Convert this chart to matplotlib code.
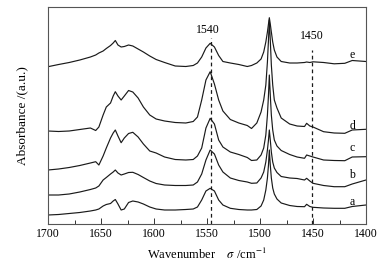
import matplotlib
matplotlib.use("Agg")
import matplotlib.pyplot as plt
import numpy as np

# ---------------- data ----------------
wavenumber = [1700, 1690, 1680, 1670, 1660, 1655, 1652, 1648, 1645, 1641,
              1638.5, 1636.5, 1634, 1631, 1628, 1624, 1620, 1615, 1610, 1604,
              1598, 1590, 1580, 1570, 1563, 1559, 1555, 1551, 1547, 1543,
              1539, 1535, 1528, 1520, 1512, 1508, 1503, 1499, 1496.5, 1494.5,
              1493, 1492, 1491.2, 1490.3, 1489.3, 1488, 1486.5, 1484, 1480, 1472,
              1465, 1458, 1456, 1453, 1450, 1440, 1430, 1420, 1413, 1400]

# absorbance (arbitrary units, curves already vertically offset as in the figure)
spec_e = [157.3, 159.5, 161.5, 164, 167, 169, 171, 173, 175.5, 178.5,
          181, 183.5, 179, 177, 177.5, 179, 178, 175, 172, 168,
          164.5, 161.5, 158, 157.5, 158.5, 161, 167, 176, 180.7, 177,
          168.5, 162.5, 161, 159.5, 157.5, 158.5, 161, 165, 172, 182,
          192, 200, 206.3, 200, 192, 182, 174, 167, 162.5, 161,
          161, 161.5, 162, 161.5, 162.2, 161.5, 160.2, 160.7, 163.5, 162.5]

spec_d = [93, 92.5, 93, 94.5, 96, 93.5, 97, 109, 117, 121,
          128, 132.3, 128, 124, 128, 133.5, 132, 126, 117, 109,
          105, 103, 101.5, 101, 102.5, 107, 124, 144, 152.3, 140,
          124, 113, 104.5, 101, 98.5, 95.5, 101, 112, 124, 139,
          162, 184, 204, 184, 159, 139, 124, 116, 106, 100,
          98, 97.5, 100.7, 98, 97, 92.3, 91, 90.7, 94, 94.7]

spec_c = [54, 55, 56.5, 58.5, 61, 62.3, 59, 68, 76, 86,
          91, 94, 88, 81.3, 86, 90.5, 91.7, 87, 80, 73,
          71, 67, 64.5, 64, 64.5, 68, 76, 96, 105.7, 100,
          84, 77, 72, 69.5, 66.5, 63.5, 64, 69, 76, 89,
          109, 129, 149, 129, 109, 94, 84, 78, 73.5, 69.5,
          67, 65.7, 69, 68, 67, 64, 63.5, 63.3, 67, 67.3]

spec_b = [29, 29, 30, 32, 34.5, 36, 38, 44, 46.5, 50,
          52, 54, 51, 49, 50, 51.5, 51.7, 49.5, 46.5, 43,
          40.5, 39, 38.5, 38.5, 39, 42, 50, 64, 74, 70,
          59, 52, 46, 43.5, 42, 40.7, 41, 46, 52, 62,
          74, 84, 94, 84, 72, 62, 56, 51.5, 47.5, 46,
          45.5, 44, 45.7, 43, 40.7, 38.5, 37.3, 37.3, 40, 44]

spec_a = [9, 9.5, 10.5, 11.5, 13, 14, 15, 18, 19.5, 20.5,
          23, 24.5, 20, 14, 15, 21.5, 23, 22, 20, 17,
          15, 14, 14, 14.5, 15, 17, 24, 33, 35.7, 33,
          24, 19, 15.7, 14.5, 14, 14, 14.5, 18, 24, 34,
          46, 59, 74, 59, 46, 36, 30, 25, 21, 18.5,
          17.5, 17.3, 19.7, 17.5, 16.7, 16, 15.7, 15.7, 17.5, 19]

curve_labels = ["a", "b", "c", "d", "e"]
label_y = [22.3, 49, 76, 98, 169]          # height of each curve letter
label_x = 1413

ref_lines = [1546.5, 1450.5]               # dashed marker positions
ref_texts = ["1540", "1450"]
ref_text_x = [1549, 1451]
ref_top = [186, 174]                       # upper end of each dashed line
ref_text_y = [194, 188]

# ---------------- figure ----------------
plt.rcParams['font.family'] = ['Liberation Serif', 'DejaVu Serif']
plt.rcParams['mathtext.fontset'] = 'stix'

W, H = 391, 265
fig = plt.figure(figsize=(W / 100, H / 100), dpi=100)
ax = fig.add_axes([48 / W, 1 - 224 / H, (366 - 48) / W, (224 - 7) / H])

line_kw = dict(color='#1a1a1a', lw=0.85)
for spec in [spec_a, spec_b, spec_c, spec_d, spec_e]:
    ax.plot(wavenumber, spec, **line_kw)

for xv, top in zip(ref_lines, ref_top):
    ax.plot([xv, xv], [0, top], color='#1a1a1a', lw=0.9, dashes=(3, 2.5))
for tx, ty, txt in zip(ref_text_x, ref_text_y, ref_texts):
    ax.text(tx, ty, txt, ha='center', va='center', fontsize=8.5)

for lab, ly in zip(curve_labels, label_y):
    ax.text(label_x, ly, lab, ha='center', va='center', fontsize=8.5)

ax.set_xlim(1700, 1400)
ax.set_ylim(0, 217)
ax.set_xticks([1700, 1650, 1600, 1550, 1500, 1450, 1400])
ax.set_xticks(np.arange(1675, 1400, -50), minor=True)
ax.set_yticks([])
ax.tick_params(axis='x', which='major', direction='in', length=4, width=0.7,
               labelsize=8.5, pad=3, top=False, color='#333333')
ax.tick_params(axis='x', which='minor', direction='in', length=3, width=0.7,
               top=False, color='#333333')
for s in ax.spines.values():
    s.set_color('#555555')
    s.set_linewidth(0.8)

ax.set_xlabel('Wavenumber    $\\sigma$ /cm$^{-1}$', fontsize=9, labelpad=5)
ax.set_ylabel('Absorbance /(a.u.)', fontsize=9.5, labelpad=14)

fig.savefig('out.png', dpi=100)
